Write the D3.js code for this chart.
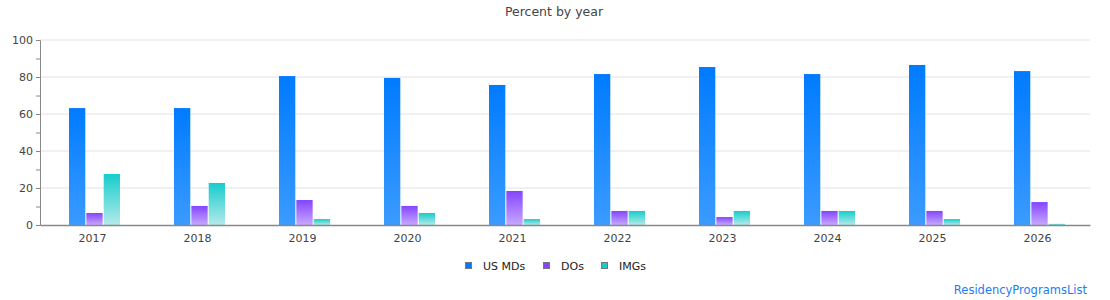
<!DOCTYPE html>
<html>
<head>
<meta charset="utf-8">
<script src="https://cdn.jsdelivr.net/npm/d3@7"></script>
<style>
  body { margin: 0; background: #fff; }
  svg { font-family: "DejaVu Sans", Verdana, sans-serif; }
</style>
</head>
<body>
<div id="chart"></div>
<script>
// data
const years = ["2017", "2018", "2019", "2020", "2021", "2022", "2023", "2024", "2025", "2026"];
const usMDs = [63.2, 63.2, 80.5, 79.5, 75.7, 81.6, 85.4, 81.6, 86.5, 83.2];
const dOs   = [6.5, 10.3, 13.5, 10.3, 18.4, 7.6, 4.3, 7.6, 7.6, 12.4];
const imgs  = [27.6, 22.7, 3.2, 6.5, 3.2, 7.6, 7.6, 7.6, 3.2, 0.6];
const yTicks = [0, 20, 40, 60, 80, 100];

const series = [
  { key: "us",  label: "US MDs", values: usMDs, top: "#007bff", bottom: "#3b9bff" },
  { key: "do",  label: "DOs",    values: dOs,   top: "#8545ff", bottom: "#c6a8ff" },
  { key: "img", label: "IMGs",   values: imgs,  top: "#17cccc", bottom: "#b4eaea" }
];

const W = 1110, H = 300;
const margin = { top: 40, right: 20, bottom: 75, left: 40 };
const width = W - margin.left - margin.right,
  height = H - margin.top - margin.bottom;

const svg = d3.select("#chart").append("svg")
  .attr("width", W)
  .attr("height", H);

// gradients per series
const defs = svg.append("defs");
series.forEach(s => {
  const g = defs.append("linearGradient")
    .attr("id", "grad-" + s.key)
    .attr("x1", 0).attr("y1", 0).attr("x2", 0).attr("y2", 1);
  g.append("stop").attr("offset", "0%").attr("stop-color", s.top);
  g.append("stop").attr("offset", "100%").attr("stop-color", s.bottom);
});

// title
svg.append("text")
  .attr("x", 554)
  .attr("y", 16)
  .attr("text-anchor", "middle")
  .attr("font-size", "12.5px")
  .attr("fill", "#444")
  .text("Percent by year");

const g = svg.append("g")
  .attr("transform", `translate(${margin.left},${margin.top})`);

const x = d3.scaleBand()
  .domain(years)
  .range([0, width]);

const x1 = d3.scaleBand()
  .domain(series.map(s => s.key))
  .range([0, 51])
  .paddingInner(0.06);

const y = d3.scaleLinear()
  .domain([0, 100])
  .range([height, 0]);

// gridlines
g.append("g")
  .selectAll("line")
  .data(yTicks.slice(1))
  .join("line")
  .attr("x1", 0)
  .attr("x2", width)
  .attr("y1", d => y(d))
  .attr("y2", d => y(d))
  .attr("stroke", "#e2e2e2")
  .attr("stroke-width", 1);

// bars
const groups = g.append("g")
  .selectAll("g")
  .data(years)
  .join("g")
  .attr("transform", d => `translate(${x(d) + x.bandwidth() / 2 - 23.5},0)`);

groups.selectAll("rect")
  .data((d, i) => series.map(s => ({ key: s.key, v: s.values[i] })))
  .join("rect")
  .attr("x", d => x1(d.key))
  .attr("y", d => y(d.v))
  .attr("width", x1.bandwidth())
  .attr("height", d => y(0) - y(d.v))
  .attr("fill", d => `url(#grad-${d.key})`);

// y axis
const yAxis = g.append("g")
  .call(d3.axisLeft(y).tickValues(d3.range(0, 101, 10)).tickSize(4).tickFormat(d => d % 20 === 0 ? d : ""));
yAxis.select(".domain").attr("stroke", "#888");
yAxis.selectAll(".tick line").attr("stroke", "#888");
yAxis.selectAll(".tick text")
  .attr("font-size", "11px")
  .attr("fill", "#444")
  .attr("font-family", "DejaVu Sans, sans-serif");

// x axis
const xAxis = g.append("g")
  .attr("transform", `translate(0,${height})`)
  .call(d3.axisBottom(x).tickSize(0).tickPadding(9));
xAxis.select(".domain").attr("stroke", "#888").attr("stroke-width", 1.5);
xAxis.selectAll(".tick text")
  .attr("font-size", "11px")
  .attr("fill", "#444")
  .attr("font-family", "DejaVu Sans, sans-serif");

// legend
const legendX = [465, 543, 601];
const legend = svg.append("g");
series.forEach((s, i) => {
  const lg = legend.append("g").attr("transform", `translate(${legendX[i]},262)`);
  lg.append("rect")
    .attr("x", 0.5).attr("y", 0.5)
    .attr("width", 6).attr("height", 6)
    .attr("fill", s.top)
    .attr("stroke", "#777")
    .attr("stroke-width", 1);
  lg.append("text")
    .attr("x", 18)
    .attr("y", 7.5)
    .attr("font-size", "11px")
    .attr("fill", "#222")
    .text(s.label);
});

// source mark
svg.append("text")
  .attr("x", 1087)
  .attr("y", 294)
  .attr("text-anchor", "end")
  .attr("font-size", "11.5px")
  .attr("fill", "#1a7df5")
  .text("ResidencyProgramsList");
</script>
</body>
</html>
